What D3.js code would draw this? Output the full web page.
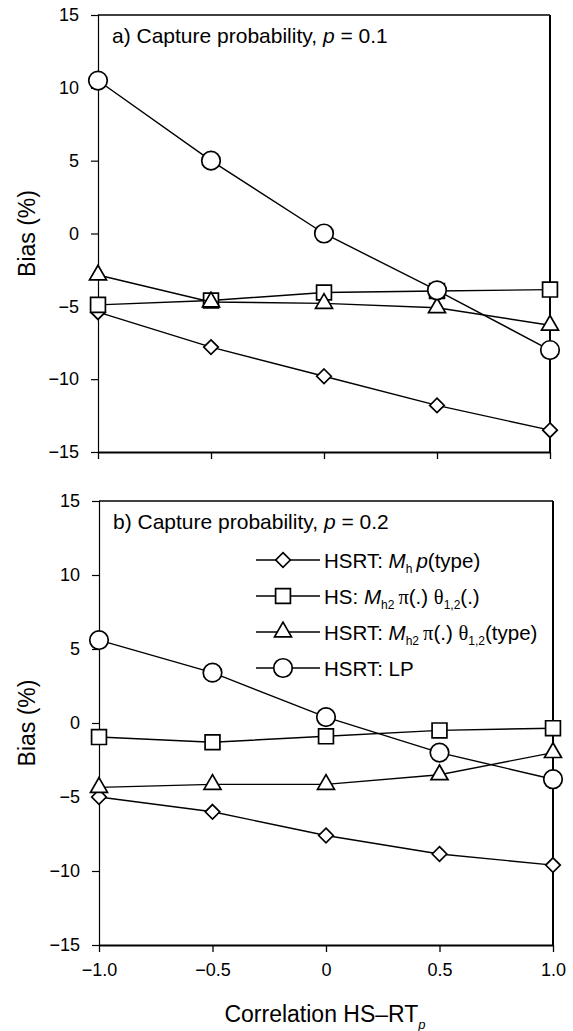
<!DOCTYPE html>
<meta charset="utf-8">
<head>
  <title>Bias vs correlation HS-RT</title>
  <script src="https://d3js.org/d3.v7.min.js"></script>
  <style>
    body { margin: 0; background: #fff; }
    text { font-family: "Liberation Sans", Arial, sans-serif; fill: #000; }
    .greek { font-family: "Liberation Serif", "Times New Roman", serif; }
  </style>
</head>
<body>
  <svg id="chart" width="573" height="1031"></svg>
  <script>
    // correlation values on the x axis
    var corr = [-1.0, -0.5, 0, 0.5, 1.0];
    var xTickLabels = ["\u22121.0", "\u22120.5", "0", "0.5", "1.0"];
    var yTicks = [-15, -10, -5, 0, 5, 10, 15];

    // panel a) p = 0.1
    var aDiamond = [-5.4, -7.8, -9.8, -11.8, -13.5];
    var aSquare = [-4.9, -4.6, -4.05, -3.95, -3.85];
    var aTriangle = [-2.85, -4.7, -4.8, -5.1, -6.3];
    var aCircle = [10.5, 5.0, 0.0, -3.9, -8.0];

    // panel b) p = 0.2
    var bDiamond = [-5.0, -6.0, -7.6, -8.85, -9.6];
    var bSquare = [-0.95, -1.3, -0.9, -0.5, -0.35];
    var bTriangle = [-4.35, -4.15, -4.15, -3.5, -2.0];
    var bCircle = [5.6, 3.4, 0.4, -2.0, -3.8];

    var svg = d3.select("#chart");

    var shapes = {
      diamond: d3.symbol().type(d3.symbolDiamond2).size(135),
      square: d3.symbol().type(d3.symbolSquare).size(220),
      triangle: d3.symbol().type(d3.symbolTriangle).size(125),
      circle: d3.symbol().type(d3.symbolCircle).size(270)
    };

    function minus(d) { return d < 0 ? "\u2212" + Math.abs(d) : d; }

    function drawPanel(cfg) {
      var x = d3.scaleLinear().domain([-1, 1]).range([cfg.left, cfg.right]);
      var y = d3.scaleLinear().domain([-15, 15]).range([cfg.bottom, cfg.top]);
      var g = svg.append("g");

      // box: top and right border
      g.append("line")
        .attr("x1", x(-1)).attr("x2", x(1))
        .attr("y1", y(15)).attr("y2", y(15))
        .attr("stroke", "#000").attr("stroke-width", 1.3);
      g.append("line")
        .attr("x1", x(1)).attr("x2", x(1))
        .attr("y1", y(15)).attr("y2", y(-15))
        .attr("stroke", "#000").attr("stroke-width", 2);

      var yAxis = g.append("g")
        .attr("transform", "translate(" + x(-1) + ",0)")
        .call(d3.axisLeft(y).tickValues(yTicks).tickSize(7).tickPadding(12).tickFormat(minus));
      yAxis.select(".domain").attr("stroke-width", 1.2);
      yAxis.selectAll(".tick line").attr("stroke-width", 1.2);
      yAxis.selectAll("text").style("font-size", "18px")
        .style("font-family", "'Liberation Sans', Arial, sans-serif");

      var xAxis = g.append("g")
        .attr("transform", "translate(0," + y(-15) + ")")
        .call(d3.axisBottom(x).tickValues(corr).tickSizeInner(7).tickSizeOuter(0).tickPadding(11)
          .tickFormat(function(d, i) { return cfg.labels ? xTickLabels[i] : ""; }));
      xAxis.select(".domain").attr("stroke-width", 2.2);
      xAxis.selectAll(".tick line").attr("stroke-width", 1.3);
      xAxis.selectAll("text").style("font-size", "18px")
        .style("font-family", "'Liberation Sans', Arial, sans-serif");

      // y axis label
      g.append("text")
        .attr("transform", "translate(35," + y(0) + ") rotate(-90)")
        .attr("text-anchor", "middle")
        .style("font-size", "23px")
        .text("Bias (%)");

      // panel title
      var t = g.append("text")
        .attr("x", x(-1) + 14).attr("y", y(15) + 28)
        .style("font-size", "21px");
      t.append("tspan").text(cfg.tag + " Capture probability, ");
      t.append("tspan").style("font-style", "italic").text("p");
      t.append("tspan").text(" = " + cfg.p);

      var series = [
        { vals: cfg.diamond, shape: "diamond" },
        { vals: cfg.square, shape: "square" },
        { vals: cfg.triangle, shape: "triangle" },
        { vals: cfg.circle, shape: "circle" }
      ];

      var line = d3.line()
        .x(function(d, i) { return x(corr[i]); })
        .y(function(d) { return y(d); });

      series.forEach(function(s) {
        g.append("path")
          .datum(s.vals)
          .attr("d", line)
          .attr("fill", "none")
          .attr("stroke", "#000")
          .attr("stroke-width", 1.4);
        g.selectAll(null)
          .data(s.vals)
          .enter()
          .append("path")
            .attr("d", shapes[s.shape])
            .attr("transform", function(d, i) { return "translate(" + x(corr[i]) + "," + y(d) + ")"; })
            .attr("fill", "#fff")
            .attr("stroke", "#000")
            .attr("stroke-width", 1.7);
      });
      return g;
    }

    drawPanel({ left: 98, right: 550, top: 15, bottom: 452, tag: "a)", p: "0.1", labels: false,
      diamond: aDiamond, square: aSquare, triangle: aTriangle, circle: aCircle });

    drawPanel({ left: 99, right: 553, top: 501, bottom: 945, tag: "b)", p: "0.2", labels: true,
      diamond: bDiamond, square: bSquare, triangle: bTriangle, circle: bCircle });

    // legend in panel b
    var legendItems = ["diamond", "square", "triangle", "circle"];
    var legend = svg.append("g").attr("transform", "translate(256,560)");
    var rows = legend.selectAll("g")
      .data(legendItems)
      .enter().append("g")
      .attr("transform", function(d, i) { return "translate(0," + i * 36 + ")"; });
    rows.append("line")
      .attr("x1", 0).attr("x2", 64)
      .attr("stroke", "#000").attr("stroke-width", 1.4);
    rows.append("path")
      .attr("d", function(d) { return shapes[d](); })
      .attr("transform", "translate(27,0)")
      .attr("fill", "#fff").attr("stroke", "#000").attr("stroke-width", 1.7);

    var lt = rows.append("text")
      .attr("x", 68).attr("y", 8)
      .style("font-size", "20.5px");

    function sub(el, s) {
      el.append("tspan").attr("dy", 5).style("font-size", "12px").text(s);
      el.append("tspan").attr("dy", -5).text("\u2009");
    }

    lt.each(function(d, i) {
      var el = d3.select(this);
      if (i === 3) { el.text("HSRT: LP"); return; }
      el.append("tspan").text(i === 1 ? "HS: " : "HSRT: ");
      el.append("tspan").style("font-style", "italic").text("M");
      if (i === 0) {
        sub(el, "h");
        el.append("tspan").style("font-style", "italic").text("p");
        el.append("tspan").text("(type)");
      } else {
        sub(el, "h2");
        el.append("tspan").attr("class", "greek").text("\u03c0");
        el.append("tspan").text("(.) ");
        el.append("tspan").attr("class", "greek").text("\u03b8");
        el.append("tspan").attr("dy", 5).style("font-size", "12px").text("1,2");
        el.append("tspan").attr("dy", -5).text(i === 1 ? "(.)" : "(type)");
      }
    });

    // x axis title
    var xt = svg.append("text")
      .attr("x", 325).attr("y", 1022)
      .attr("text-anchor", "middle")
      .style("font-size", "23px");
    xt.append("tspan").text("Correlation HS\u2013RT");
    xt.append("tspan").attr("dy", 7).style("font-size", "13px").style("font-style", "italic").text("p");
  </script>
</body>
</html>
